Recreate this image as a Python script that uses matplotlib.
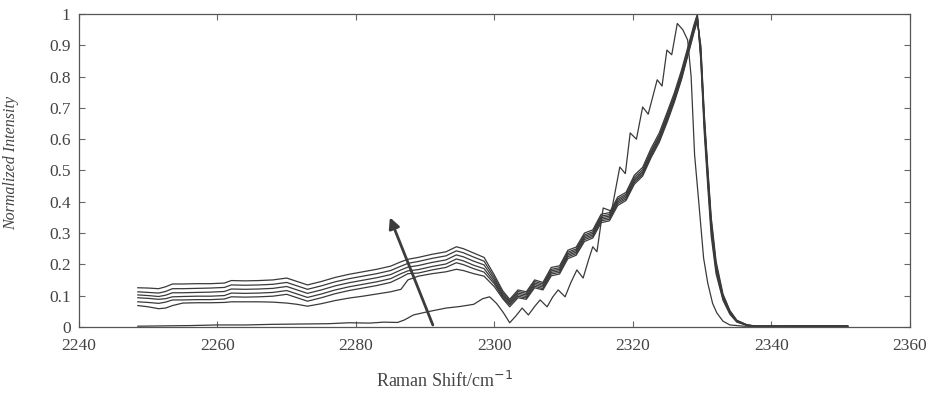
import numpy as np
import matplotlib
matplotlib.use("Agg")
import matplotlib.pyplot as plt

# shared wavenumber grid for the six stacked spectra
xb = [2248.5, 2250, 2251.5, 2252.5, 2253.5, 2255, 2257, 2259, 2261, 2262, 2264, 2266,
      2268, 2270, 2271.5, 2273, 2275, 2277, 2279, 2281, 2283, 2285, 2286.5, 2287.5,
      2289, 2291, 2293, 2294.5, 2295.5, 2297, 2298.5,
      2300, 2301.2, 2302.2, 2303.4, 2304.6, 2305.8, 2307.0, 2308.2, 2309.4, 2310.6,
      2311.8, 2313.0, 2314.2, 2315.4, 2316.6, 2317.8, 2319.0, 2320.2, 2321.4, 2322.6,
      2323.8, 2325.0, 2326.0, 2327.0, 2328.0, 2328.8, 2329.3,
      2329.8, 2330.3, 2330.8, 2331.3, 2332, 2333, 2334, 2335, 2336.5, 2338, 2342, 2346, 2351]

b1 = [0.125, 0.124, 0.122, 0.128, 0.137, 0.137, 0.138, 0.138, 0.140, 0.148, 0.147, 0.148,
      0.150, 0.156, 0.145, 0.134, 0.145, 0.158, 0.168, 0.176, 0.184, 0.194, 0.208, 0.216,
      0.222, 0.232, 0.240, 0.256, 0.250, 0.236, 0.222,
      0.165, 0.115, 0.088, 0.118, 0.112, 0.150, 0.142, 0.190, 0.195, 0.245, 0.255, 0.300,
      0.310, 0.360, 0.365, 0.415, 0.430, 0.485, 0.510, 0.570, 0.620, 0.690, 0.750, 0.820,
      0.900, 0.965, 1.000,
      0.85, 0.62, 0.45, 0.29, 0.17, 0.085, 0.04, 0.015, 0.004, 0.002, 0.002, 0.003, 0.002]

b2 = [0.112, 0.110, 0.108, 0.113, 0.122, 0.122, 0.123, 0.124, 0.126, 0.134, 0.133, 0.134,
      0.136, 0.142, 0.131, 0.120, 0.131, 0.144, 0.154, 0.162, 0.170, 0.180, 0.194, 0.203,
      0.209, 0.219, 0.227, 0.243, 0.237, 0.223, 0.210,
      0.157, 0.109, 0.083, 0.113, 0.107, 0.145, 0.137, 0.184, 0.189, 0.239, 0.249, 0.294,
      0.304, 0.354, 0.359, 0.409, 0.424, 0.478, 0.503, 0.562, 0.612, 0.682, 0.742, 0.812,
      0.893, 0.960, 0.995,
      0.86, 0.64, 0.47, 0.31, 0.18, 0.09, 0.043, 0.017, 0.005, 0.002, 0.002, 0.003, 0.002]

b3 = [0.102, 0.100, 0.097, 0.101, 0.109, 0.109, 0.110, 0.111, 0.113, 0.121, 0.120, 0.121,
      0.123, 0.129, 0.118, 0.107, 0.118, 0.131, 0.141, 0.149, 0.157, 0.167, 0.182, 0.191,
      0.196, 0.206, 0.214, 0.230, 0.224, 0.210, 0.198,
      0.150, 0.104, 0.079, 0.108, 0.102, 0.140, 0.132, 0.179, 0.184, 0.234, 0.244, 0.289,
      0.299, 0.349, 0.354, 0.404, 0.419, 0.472, 0.497, 0.556, 0.606, 0.675, 0.736, 0.806,
      0.888, 0.955, 0.990,
      0.87, 0.65, 0.48, 0.32, 0.19, 0.095, 0.046, 0.018, 0.005, 0.002, 0.002, 0.003, 0.002]

b4 = [0.093, 0.091, 0.088, 0.090, 0.096, 0.097, 0.098, 0.098, 0.100, 0.108, 0.107, 0.108,
      0.110, 0.116, 0.105, 0.094, 0.105, 0.118, 0.128, 0.136, 0.144, 0.154, 0.170, 0.179,
      0.183, 0.193, 0.201, 0.217, 0.211, 0.197, 0.186,
      0.143, 0.099, 0.074, 0.103, 0.097, 0.135, 0.127, 0.174, 0.179, 0.229, 0.239, 0.284,
      0.294, 0.344, 0.349, 0.399, 0.414, 0.467, 0.492, 0.551, 0.601, 0.669, 0.730, 0.800,
      0.883, 0.950, 0.986,
      0.88, 0.66, 0.49, 0.33, 0.195, 0.098, 0.048, 0.019, 0.005, 0.002, 0.002, 0.003, 0.002]

b5 = [0.080, 0.078, 0.075, 0.079, 0.086, 0.086, 0.087, 0.087, 0.089, 0.096, 0.095, 0.096,
      0.098, 0.104, 0.093, 0.082, 0.093, 0.106, 0.116, 0.124, 0.132, 0.142, 0.158, 0.170,
      0.172, 0.182, 0.190, 0.205, 0.199, 0.186, 0.175,
      0.137, 0.094, 0.070, 0.098, 0.092, 0.130, 0.122, 0.169, 0.174, 0.224, 0.234, 0.279,
      0.289, 0.339, 0.344, 0.394, 0.409, 0.462, 0.487, 0.546, 0.596, 0.664, 0.725, 0.795,
      0.878, 0.945, 0.982,
      0.89, 0.67, 0.50, 0.34, 0.20, 0.10, 0.05, 0.02, 0.006, 0.002, 0.002, 0.003, 0.002]

b6 = [0.068, 0.064, 0.058, 0.060, 0.068, 0.076, 0.077, 0.077, 0.078, 0.080, 0.080, 0.080,
      0.079, 0.076, 0.072, 0.066, 0.074, 0.084, 0.092, 0.098, 0.105, 0.112, 0.120, 0.150,
      0.162, 0.170, 0.176, 0.184, 0.180, 0.170, 0.162,
      0.128, 0.090, 0.064, 0.093, 0.088, 0.125, 0.118, 0.163, 0.169, 0.218, 0.229, 0.273,
      0.284, 0.333, 0.339, 0.388, 0.404, 0.456, 0.482, 0.540, 0.590, 0.658, 0.720, 0.790,
      0.873, 0.940, 0.978,
      0.90, 0.68, 0.51, 0.35, 0.21, 0.105, 0.052, 0.021, 0.006, 0.002, 0.002, 0.003, 0.002]

# the odd spectrum: flat near zero, then rises earliest
x7 = [2248.5, 2252, 2256, 2260, 2264, 2268, 2272, 2276, 2279, 2282, 2284, 2286, 2287,
      2288.3, 2290.3, 2293, 2295, 2297, 2298.3, 2299.3, 2300.3, 2301.3, 2302.2, 2303.1,
      2304.0, 2304.9, 2305.8, 2306.6, 2307.6, 2308.4, 2309.2, 2310.2, 2311.0, 2311.9,
      2312.8, 2313.6, 2314.2, 2314.8, 2315.7, 2316.9, 2318.1, 2318.9, 2319.6, 2320.5,
      2321.4, 2322.2, 2323.5, 2324.2, 2324.9, 2325.6, 2326.4, 2327.2, 2327.9, 2328.4,
      2328.9, 2329.5, 2330.2, 2330.8, 2331.5, 2332.1, 2333, 2334, 2336, 2340, 2345, 2351]
y7 = [0.002, 0.003, 0.004, 0.006, 0.006, 0.008, 0.009, 0.010, 0.013, 0.012, 0.015, 0.014,
      0.022, 0.038, 0.048, 0.060, 0.065, 0.072, 0.090, 0.096, 0.075, 0.045, 0.013, 0.035,
      0.060, 0.038, 0.065, 0.086, 0.064, 0.095, 0.118, 0.096, 0.140, 0.182, 0.156, 0.215,
      0.256, 0.240, 0.380, 0.370, 0.511, 0.490, 0.620, 0.600, 0.703, 0.680, 0.790, 0.770,
      0.885, 0.870, 0.970, 0.950, 0.917, 0.80, 0.55, 0.40, 0.22, 0.14, 0.075, 0.045,
      0.018, 0.006, 0.002, 0.001, 0.002, 0.001]

xticks = [2240, 2260, 2280, 2300, 2320, 2340, 2360]
yticks = [0, 0.1, 0.2, 0.3, 0.4, 0.5, 0.6, 0.7, 0.8, 0.9, 1]
ylabels = ['0', '0.1', '0.2', '0.3', '0.4', '0.5', '0.6', '0.7', '0.8', '0.9', '1']

plt.rcParams['font.family'] = ['Liberation Serif', 'DejaVu Serif']

fig = plt.figure(figsize=(9.29, 4.03), dpi=100)
ax = fig.add_axes([0.085, 0.189, 0.8945, 0.776])

lc = '#3a3a3a'
for yy in [b1, b2, b3, b4, b5, b6]:
    ax.plot(xb, yy, color=lc, lw=0.9)
ax.plot(x7, y7, color=lc, lw=0.9)

# arrow showing the trend
ax.annotate('', xy=(2284.9, 0.35), xytext=(2291.1, 0.006),
            arrowprops=dict(arrowstyle='-|>', color='#3c3c3c', lw=2.0,
                            mutation_scale=16, shrinkA=0, shrinkB=0))

ax.set_xlim(2240, 2360)
ax.set_ylim(0, 1)
ax.set_xticks(xticks)
ax.set_yticks(yticks)
ax.set_yticklabels(ylabels)
ax.tick_params(direction='in', length=4, width=0.8, color='#666666',
               labelcolor='#444444', labelsize=12.5, top=True, right=True)
ax.tick_params(axis='x', pad=8)
ax.tick_params(axis='y', pad=6)
for s in ax.spines.values():
    s.set_color('#555555')
    s.set_linewidth(0.9)

ax.set_xlabel('Raman Shift/cm$^{-1}$', fontsize=13, color='#444444')
ax.xaxis.set_label_coords(0.44, -0.14)
ax.set_ylabel('Normalized Intensity', fontsize=11.5, style='italic', color='#444444')
ax.yaxis.set_label_coords(-0.072, 0.525)

fig.savefig('out.png', dpi=100, facecolor='white')
